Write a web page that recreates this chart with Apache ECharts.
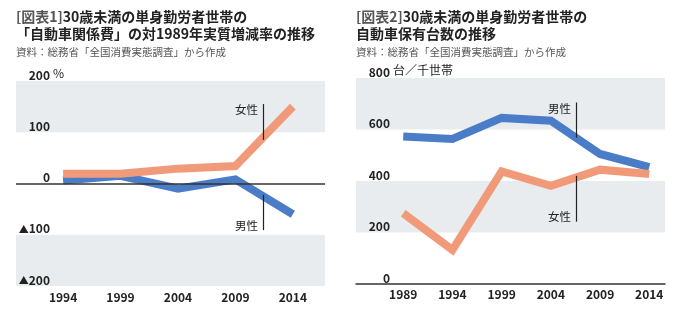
<!DOCTYPE html>
<html><head><meta charset="utf-8">
<script src="https://cdn.jsdelivr.net/npm/echarts@6/dist/echarts.min.js"></script>
<style>html,body{margin:0;padding:0;background:#fff}#c{width:680px;height:324px}</style>
</head><body><div id="c"></div>
<script>
// Chart 1: real growth of car-related spending vs 1989 (%)
const years1 = [1994, 1999, 2004, 2009, 2014];
const female1 = [19, 19, 29, 34, 150];
const male1 = [6, 15, -10, 8, -60];
const yTicks1 = [-200, -100, 0, 100, 200];
// Chart 2: cars owned per 1000 households
const years2 = [1989, 1994, 1999, 2004, 2009, 2014];
const male2 = [573, 563, 645, 634, 505, 454];
const female2 = [275, 132, 437, 381, 444, 427];
const yTicks2 = [0, 200, 400, 600, 800];

const FONT = '"Noto Sans CJK JP", "Noto Sans", sans-serif';
const BLUE = '#4a7cc8', ORANGE = '#f19a7a', GRAY = '#e9ecef', INK = '#222';

const pairs = (xs, ys) => xs.map((x, i) => [x, ys[i]]);

function annoLine(x, y1, y2) {
  return { symbol: 'none', silent: true, label: { show: false },
    lineStyle: { color: INK, width: 1.2, type: 'solid' },
    data: [[{ coord: [x, y1] }, { coord: [x, y2] }]] };
}
function annoText(x, y, txt) {
  return { silent: true, symbol: 'circle', symbolSize: 0,
    label: { show: true, position: 'left', distance: 5, formatter: txt, color: INK, fontSize: 11.5, fontFamily: FONT },
    data: [{ coord: [x, y] }] };
}

const labelStyle = { color: INK, fontWeight: 'bold', fontSize: 12, fontFamily: FONT };

const option = {
  animation: false,
  textStyle: { fontFamily: FONT },
  title: [
    { left: 16, top: 8, padding: 0, itemGap: 8,
      text: '{g|[図表1]}{b|30歳未満の単身勤労者世帯の}\n{b|「自動車関係費」の対1989年実質増減率の推移}',
      textStyle: { rich: {
        g: { fontSize: 14, color: '#555', fontFamily: FONT, lineHeight: 17 },
        b: { fontSize: 14, fontWeight: 'bold', color: INK, fontFamily: FONT, lineHeight: 17 } } },
      subtext: '資料：総務省「全国消費実態調査」から作成',
      subtextStyle: { fontSize: 10.5, color: '#555', fontFamily: FONT } },
    { left: 356, top: 8, padding: 0, itemGap: 8,
      text: '{g|[図表2]}{b|30歳未満の単身勤労者世帯の}\n{b|自動車保有台数の推移}',
      textStyle: { rich: {
        g: { fontSize: 14, color: '#555', fontFamily: FONT, lineHeight: 17 },
        b: { fontSize: 14, fontWeight: 'bold', color: INK, fontFamily: FONT, lineHeight: 17 } } },
      subtext: '資料：総務省「全国消費実態調査」から作成',
      subtextStyle: { fontSize: 10.5, color: '#555', fontFamily: FONT } }
  ],
  graphic: [
    { type: 'text', left: 53, top: 67, style: { text: '%', fill: INK, fontSize: 12, fontFamily: FONT } },
    { type: 'text', left: 393, top: 64, style: { text: '台／千世帯', fill: INK, fontSize: 12, fontFamily: FONT } }
  ],
  grid: [
    { left: 16, right: 355, top: 81, bottom: 38 },
    { left: 356, right: 15, top: 78, bottom: 40 }
  ],
  xAxis: [
    { gridIndex: 0, type: 'value', min: 1989.9, max: 2016.8,
      axisLine: { show: false, onZero: false }, axisTick: { show: false }, splitLine: { show: false },
      axisLabel: Object.assign({ margin: 5, customValues: years1, formatter: v => String(v) }, labelStyle) },
    { gridIndex: 1, type: 'value', min: 1984.2, max: 2015.6,
      axisLine: { show: true, onZero: false, lineStyle: { color: '#333', width: 1.5 } },
      axisTick: { show: false }, splitLine: { show: false },
      axisLabel: Object.assign({ margin: 4, customValues: years2, formatter: v => String(v) }, labelStyle) }
  ],
  yAxis: [
    { gridIndex: 0, type: 'value', min: yTicks1[0], max: yTicks1[yTicks1.length - 1], interval: 100,
      axisLine: { show: false }, axisTick: { show: false }, splitLine: { show: false },
      splitArea: { show: true, areaStyle: { color: [GRAY, '#fff', '#fff', GRAY] } },
      axisLabel: Object.assign({ margin: -34, align: 'right', verticalAlign: 'bottom',
        formatter: v => v < 0 ? '{t|▲}' + (-v) : String(v),
        rich: { t: { fontSize: 10, color: INK, fontFamily: FONT } } }, labelStyle) },
    { gridIndex: 1, type: 'value', min: yTicks2[0], max: yTicks2[yTicks2.length - 1], interval: 200,
      axisLine: { show: false }, axisTick: { show: false }, splitLine: { show: false },
      splitArea: { show: true, areaStyle: { color: ['#fff', GRAY] } },
      axisLabel: Object.assign({ margin: -34, align: 'right', verticalAlign: 'bottom' }, labelStyle) }
  ],
  series: [
    { name: '男性', type: 'line', xAxisIndex: 0, yAxisIndex: 0, data: pairs(years1, male1),
      symbol: 'none', lineStyle: { color: BLUE, width: 8, cap: 'butt', join: 'miter' }, z: 3,
      markLine: annoLine(2011.4, -22, -91), markPoint: annoText(2011.4, -83, '男性') },
    { name: '女性', type: 'line', xAxisIndex: 0, yAxisIndex: 0, data: pairs(years1, female1),
      symbol: 'none', lineStyle: { color: ORANGE, width: 8, cap: 'butt', join: 'miter' }, z: 4,
      markLine: annoLine(2011.4, 85, 155), markPoint: annoText(2011.4, 145, '女性') },
    { name: 'zero', type: 'line', xAxisIndex: 0, yAxisIndex: 0, data: [], symbol: 'none', z: 5,
      markLine: { symbol: 'none', silent: true, label: { show: false },
        lineStyle: { color: '#333', width: 1.5, type: 'solid' }, data: [{ yAxis: 0 }] } },
    { name: '男性2', type: 'line', xAxisIndex: 1, yAxisIndex: 1, data: pairs(years2, male2),
      symbol: 'none', lineStyle: { color: BLUE, width: 8, cap: 'butt', join: 'miter' }, z: 3,
      markLine: annoLine(2006.55, 568, 705), markPoint: annoText(2006.55, 681, '男性') },
    { name: '女性2', type: 'line', xAxisIndex: 1, yAxisIndex: 1, data: pairs(years2, female2),
      symbol: 'none', lineStyle: { color: ORANGE, width: 8, cap: 'butt', join: 'miter' }, z: 4,
      markLine: annoLine(2006.55, 242, 420), markPoint: annoText(2006.55, 261, '女性') }
  ]
};
const chart = echarts.init(document.getElementById('c'), null, { renderer: 'canvas' });
chart.setOption(option);
</script></body></html>
